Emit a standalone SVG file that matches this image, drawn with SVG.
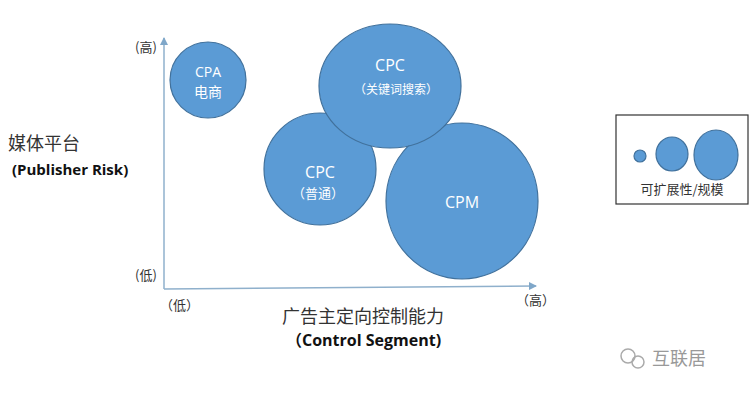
<svg xmlns="http://www.w3.org/2000/svg" width="754" height="400" viewBox="0 0 754 400">
<style>
.b{fill:#5b9bd5;stroke:#41719c;stroke-width:1.2}
.w{fill:#fff;font-family:"Open Sans","Noto Sans CJK SC",sans-serif;text-anchor:middle}
.k{fill:#333;font-family:"Noto Sans CJK SC",sans-serif}
.ax{stroke:#8fb0cc;stroke-width:1.5;fill:none}
</style>
<defs><marker id="a" markerWidth="8" markerHeight="8" refX="7" refY="4" orient="auto" markerUnits="userSpaceOnUse"><path d="M0,0L8,4L0,8z" fill="#7fa7c9"/></marker></defs>
<rect width="754" height="400" fill="#fff"/>
<g id="axes">
<line class="ax" x1="164" y1="289" x2="164" y2="38" marker-end="url(#a)"/>
<line class="ax" x1="164" y1="289" x2="536" y2="286" marker-end="url(#a)"/>
</g>
<g id="labels">
<text class="k" x="135" y="52" font-size="13">(高)</text>
<text class="k" x="135" y="280" font-size="13">(低)</text>
<text class="k" x="160" y="310" font-size="13">（低）</text>
<text class="k" x="516" y="305" font-size="13">（高）</text>
<text class="k" x="8" y="150" font-size="18">媒体平台</text>
<text x="12" y="175" font-size="15" font-weight="bold" font-family="'Open Sans',sans-serif" fill="#111">(Publisher Risk)</text>
<text class="k" x="282" y="323" font-size="18">广告主定向控制能力</text>
<text x="286" y="346" font-size="16" font-weight="bold" font-family="'Open Sans','Noto Sans CJK SC',sans-serif" fill="#111">（Control Segment)</text>
</g>
<g id="cpa"><circle class="b" cx="208" cy="80" r="38"/><text class="w" x="208" y="77" font-size="14">CPA</text><text class="w" x="208" y="97" font-size="14">电商</text></g>
<g id="cpc2"><ellipse class="b" cx="320" cy="169" rx="56" ry="56"/><text class="w" x="320" y="178" font-size="16">CPC</text><text class="w" x="318" y="198" font-size="13">（普通）</text></g>
<g id="cpm"><ellipse class="b" cx="462" cy="201" rx="76" ry="78"/><text class="w" x="462" y="208" font-size="16">CPM</text></g>
<g id="cpc1"><ellipse class="b" cx="390" cy="86" rx="71" ry="62"/><text class="w" x="390" y="71" font-size="16">CPC</text><text class="w" x="396" y="94" font-size="12">（关键词搜索）</text></g>
<g id="legend">
<rect x="616" y="115" width="132" height="89" fill="#fff" stroke="#333" stroke-width="1.2"/>
<circle class="b" cx="640" cy="156" r="6"/>
<ellipse class="b" cx="672" cy="154" rx="16" ry="17"/>
<ellipse class="b" cx="716" cy="155" rx="22" ry="25"/>
<text class="k" x="682" y="194" font-size="13" text-anchor="middle">可扩展性/规模</text>
</g>
<g id="watermark">
<circle cx="628" cy="356" r="7" fill="none" stroke="#aaa" stroke-width="1.5"/>
<circle cx="638" cy="362" r="6" fill="none" stroke="#aaa" stroke-width="1.5"/>
<text x="652" y="365" font-size="18" fill="#999" font-family="'Noto Sans CJK SC',sans-serif">互联居</text>
</g>
</svg>
